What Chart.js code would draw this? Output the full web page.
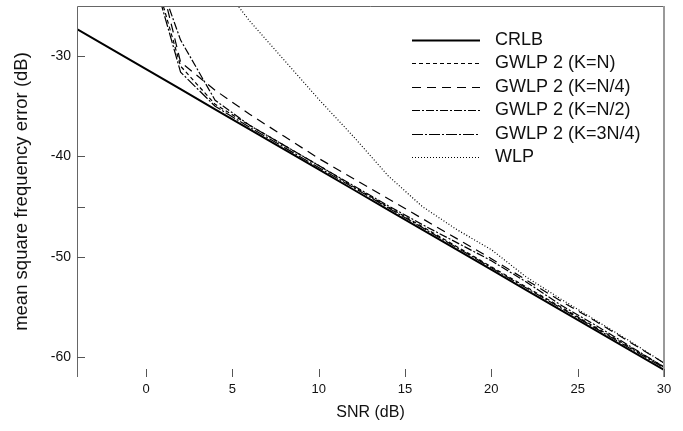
<!DOCTYPE html>
<html>
<head>
<meta charset="utf-8">
<script src="https://cdn.jsdelivr.net/npm/chart.js@4.4.0/dist/chart.umd.min.js"></script>
<style>
  html, body { margin: 0; padding: 0; background: #fff; }
</style>
</head>
<body>
<canvas id="mseChart" width="683" height="431"></canvas>
<script>
// tick values
const xTicks = [0, 5, 10, 15, 20, 25, 30];
const yTicks = [-60, -50, -40, -30];
const yMinorTicks = [-45];

// CRLB
const snrCrlb = [-4, -2, 0, 2, 4, 6, 8, 10, 12, 14, 16, 18, 20, 22, 24, 26, 28, 30];
const crlb = [-27.3, -29.3, -31.3, -33.3, -35.3, -37.3, -39.3, -41.3, -43.3, -45.3, -47.3, -49.3, -51.3, -53.3, -55.3, -57.3, -59.3, -61.3];

// GWLP 2 variants
const snrGwlp = [0, 2, 4, 6, 8, 10, 12, 14, 16, 18, 20, 22, 24, 26, 28, 30];
const gwlpKN   = [-19.0, -31.0, -34.8, -36.9, -38.9, -40.9, -43.0, -45.0, -47.0, -49.0, -51.0, -53.0, -55.0, -57.0, -59.0, -61.0];
const gwlpKN4  = [-16.6, -30.6, -33.4, -35.8, -38.0, -40.2, -42.2, -44.2, -46.2, -48.2, -50.2, -52.3, -54.4, -56.4, -58.5, -60.6];
const gwlpKN2  = [-18.7, -28.4, -34.4, -36.9, -38.9, -40.9, -42.9, -44.9, -46.8, -48.6, -50.4, -52.5, -54.8, -56.8, -58.9, -61.0];
const gwlpK3N4 = [-19.5, -31.6, -35.0, -37.1, -39.1, -41.1, -43.1, -45.1, -47.1, -49.1, -51.1, -53.1, -55.1, -57.1, -59.1, -61.1];

// WLP
const snrWlp = [4, 6, 8, 10, 12, 14, 16, 18, 20, 22, 24, 26, 28, 30];
const wlp = [-22.0, -26.5, -30.4, -34.3, -38.0, -41.9, -45.0, -47.3, -49.3, -52.0, -54.2, -56.3, -58.4, -60.6];

function pts(xs, ys) {
    return xs.map((x, i) => ({ x: x, y: ys[i] }));
}

function lineSet(label, xs, ys, dash, width) {
    return {
        label: label,
        data: pts(xs, ys),
        borderColor: "#000",
        borderWidth: width,
        borderDash: dash,
        pointRadius: 0,
        tension: 0,
        fill: false
    };
}

const frameAndLegend = {
    id: "frameAndLegend",
    afterDraw(chart) {
        const ctx = chart.ctx;
        const a = chart.chartArea;
        const xs = chart.scales.x;
        const ys = chart.scales.y;

        ctx.save();
        ctx.setLineDash([]);
        ctx.lineWidth = 1;
        ctx.strokeStyle = "#666";
        ctx.beginPath();
        ctx.moveTo(a.left + 0.5, a.bottom);
        ctx.lineTo(a.left + 0.5, a.top + 0.5);
        ctx.lineTo(a.right, a.top + 0.5);
        ctx.stroke();
        ctx.strokeStyle = "#999";
        ctx.lineWidth = 2;
        ctx.beginPath();
        ctx.moveTo(a.right, a.top);
        ctx.lineTo(a.right, a.bottom);
        ctx.stroke();

        // inward ticks
        ctx.strokeStyle = "#555";
        ctx.lineWidth = 1;
        ctx.beginPath();
        yTicks.concat(yMinorTicks).forEach(v => {
            const py = Math.round(ys.getPixelForValue(v)) + 0.5;
            ctx.moveTo(a.left, py);
            ctx.lineTo(a.left + 8, py);
        });
        xTicks.forEach(v => {
            const px = Math.round(xs.getPixelForValue(v)) + 0.5;
            ctx.moveTo(px, a.bottom);
            ctx.lineTo(px, a.bottom - 8);
        });
        ctx.stroke();

        // legend
        ctx.font = "18px 'Liberation Sans', Arial, sans-serif";
        ctx.fillStyle = "#111";
        ctx.textBaseline = "middle";
        chart.data.datasets.forEach((ds, i) => {
            const y = 40 + i * 23.4;
            ctx.strokeStyle = "#000";
            ctx.lineWidth = ds.borderWidth;
            ctx.setLineDash(ds.borderDash);
            ctx.beginPath();
            ctx.moveTo(412, Math.round(y) + 0.5);
            ctx.lineTo(480, Math.round(y) + 0.5);
            ctx.stroke();
            ctx.setLineDash([]);
            ctx.fillText(ds.label, 495, y);
        });
        ctx.restore();
    }
};

new Chart(document.getElementById("mseChart").getContext("2d"), {
    type: "line",
    data: {
        datasets: [
            lineSet("CRLB", snrCrlb, crlb, [], 2),
            lineSet("GWLP 2 (K=N)", snrGwlp, gwlpKN, [4, 3], 1.2),
            lineSet("GWLP 2 (K=N/4)", snrGwlp, gwlpKN4, [9, 6], 1.2),
            lineSet("GWLP 2 (K=N/2)", snrGwlp, gwlpKN2, [8, 2, 2, 2], 1.2),
            lineSet("GWLP 2 (K=3N/4)", snrGwlp, gwlpK3N4, [11, 2, 2, 2], 1.2),
            lineSet("WLP", snrWlp, wlp, [1, 2], 1.2)
        ]
    },
    options: {
        responsive: false,
        animation: false,
        layout: {
            padding: { top: 6, right: 19, left: 0, bottom: 0 }
        },
        plugins: {
            legend: { display: false },
            tooltip: { enabled: false }
        },
        scales: {
            x: {
                type: "linear",
                min: -4,
                max: 30,
                afterBuildTicks: s => { s.ticks = xTicks.map(v => ({ value: v })); },
                afterFit: s => { s.height = 54; s.paddingLeft = 0; s.paddingRight = 0; },
                grid: { display: false, drawTicks: false },
                border: { display: false },
                ticks: {
                    color: "#111",
                    padding: 5,
                    maxRotation: 0,
                    font: { family: "'Liberation Sans', Arial, sans-serif", size: 13 }
                },
                title: {
                    display: true,
                    text: "SNR (dB)",
                    color: "#111",
                    padding: { top: 0, bottom: 9 },
                    font: { family: "'Liberation Sans', Arial, sans-serif", size: 16 }
                }
            },
            y: {
                min: -62,
                max: -25,
                afterBuildTicks: s => { s.ticks = yTicks.map(v => ({ value: v })); },
                afterFit: s => { s.width = 77; s.paddingTop = 0; s.paddingBottom = 0; },
                grid: { display: false, drawTicks: false },
                border: { display: false },
                ticks: {
                    color: "#111",
                    padding: 6,
                    font: { family: "'Liberation Sans', Arial, sans-serif", size: 14 }
                },
                title: {
                    display: true,
                    text: "mean square frequency error (dB)",
                    color: "#111",
                    padding: { top: 11, bottom: 0 },
                    font: { family: "'Liberation Sans', Arial, sans-serif", size: 18.5 }
                }
            }
        }
    },
    plugins: [frameAndLegend]
});
</script>
</body>
</html>
